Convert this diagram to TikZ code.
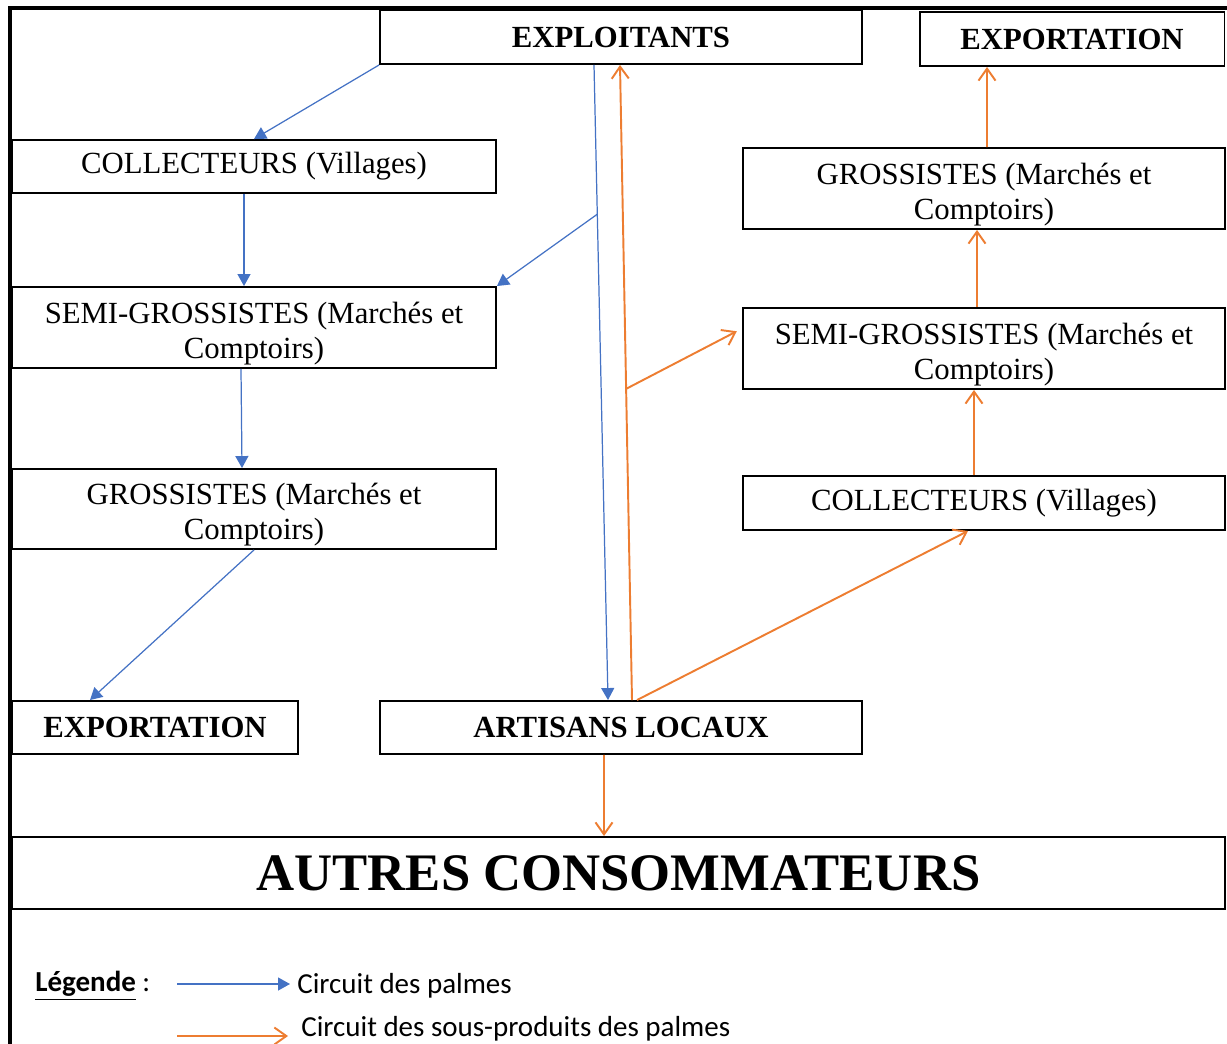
\documentclass[tikz,border=0pt]{standalone}
\usepackage{fontspec}
\setmainfont{Liberation Serif}
\newfontfamily\legendfont{Carlito}
\usetikzlibrary{arrows.meta,calc}
\definecolor{palmblue}{HTML}{4472C4}
\definecolor{palmorange}{HTML}{ED7D31}
\newcommand{\toppad}{\rule{0pt}{19pt}}

\begin{document}
\begin{tikzpicture}[x=0.02cm, y=-0.02cm,
        box/.style={draw, line width=1.1pt, align=center, inner sep=0pt,
            font=\fontsize{17.5}{20}\selectfont},
        boldbox/.style={box, font=\fontsize{17.5}{20}\selectfont\bfseries},
        palmline/.style={draw=palmblue, line width=0.7pt,
            -{Triangle[length=0.24cm,width=0.26cm]}},
        subline/.style={draw=palmorange, line width=1.1pt,
            -{Straight Barb[length=0.24cm,width=0.34cm]}},
        legtext/.style={anchor=west, inner sep=0pt,
            font=\legendfont\fontsize{16.5}{18}\selectfont}]
            \useasboundingbox (0,0) rectangle (1227,1044);
            \draw[line width=1.8pt] (10,1044) -- (10,8) -- (1227,8);

            \node[boldbox, minimum width=9.64cm, minimum height=1.08cm] (expl) at (621,37) {EXPLOITANTS};
            \node[boldbox, minimum width=6.1cm, minimum height=1.08cm] (exportD) at (1072,39) {EXPORTATION};

            \node[box, minimum width=9.68cm, minimum height=1.06cm] (colG) at (254,166.5) {COLLECTEURS (Villages)};
            \node[box, minimum width=9.68cm, minimum height=1.62cm] (semiG) at (254,327.5) {\toppad SEMI-GROSSISTES (Marchés et\\Comptoirs)};
            \node[box, minimum width=9.68cm, minimum height=1.6cm] (grosG) at (254,509) {\toppad GROSSISTES (Marchés et\\Comptoirs)};
            \node[boldbox, minimum width=5.72cm, minimum height=1.06cm] (exportG) at (155,727.5) {EXPORTATION};
            \node[boldbox, minimum width=9.64cm, minimum height=1.06cm] (artisans) at (621,727.5) {ARTISANS LOCAUX};

            \node[box, minimum width=9.64cm, minimum height=1.62cm] (grosD) at (984,188.5) {\toppad GROSSISTES (Marchés et\\Comptoirs)};
            \node[box, minimum width=9.64cm, minimum height=1.62cm] (semiD) at (984,348.5) {\toppad SEMI-GROSSISTES (Marchés et\\Comptoirs)};
            \node[box, minimum width=9.64cm, minimum height=1.08cm] (colD) at (984,503) {COLLECTEURS (Villages)};

            \node[box, minimum width=24.26cm, minimum height=1.44cm, font=\fontsize{30}{34}\selectfont\bfseries] (autres) at (618.5,873) {AUTRES CONSOMMATEURS};

            \coordinate (blueTop) at ([xshift=-0.54cm]expl.south);
            \coordinate (blueBot) at ([xshift=-0.26cm]artisans.north);
            \draw[palmline] (expl.south west) -- (colG.north);
            \draw[palmline] ([xshift=-0.2cm]colG.south) -- ([xshift=-0.2cm]semiG.north);
            \draw[palmline] (blueTop) -- (blueBot);
            \draw[palmline] ($(blueTop)!0.235!(blueBot)$) -- (semiG.north east);
            \draw[palmline] ([xshift=-0.26cm]semiG.south) -- ([xshift=-0.24cm]grosG.north);
            \draw[palmline] (grosG.south) -- ([xshift=-1.3cm]exportG.north);

            \coordinate (orTop) at ([xshift=-0.02cm]expl.south);
            \coordinate (orBot) at ([xshift=0.22cm]artisans.north);
            \draw[subline] (orBot) -- (orTop);
            \draw[subline, shorten >=0.12cm] ($(orBot)!0.49!(orTop)$) -- ([yshift=0.4cm]semiD.west);
            \draw[subline] ([xshift=0.32cm]artisans.north) -- ([xshift=-0.32cm]colD.south);
            \draw[subline] ([xshift=-0.2cm]colD.north) -- ([xshift=-0.2cm]semiD.south);
            \draw[subline] ([xshift=-0.14cm]semiD.north) -- ([xshift=-0.14cm]grosD.south);
            \draw[subline] ([xshift=0.06cm]grosD.north) -- ([xshift=-1.7cm]exportD.south);
            \draw[subline] ([xshift=-0.34cm]artisans.south) -- ([xshift=-0.29cm]autres.north);

            \node[legtext] (legTitle) at (35,986) {\underline{\textbf{Légende}} :};
            \coordinate (legPalmStart) at (177,984);
            \coordinate (legSubStart) at (177,1036);
            \node[legtext] (legPalm) at (297,986) {Circuit des palmes};
            \node[legtext] (legSub) at (301,1029) {Circuit des sous-produits des palmes};
            \draw[palmline, shorten >=0.14cm] (legPalmStart) -- (legPalm.west |- legPalmStart);
            \draw[subline, shorten >=0.26cm] (legSubStart) -- (legSub.west |- legSubStart);
        \end{tikzpicture}
\end{document}
